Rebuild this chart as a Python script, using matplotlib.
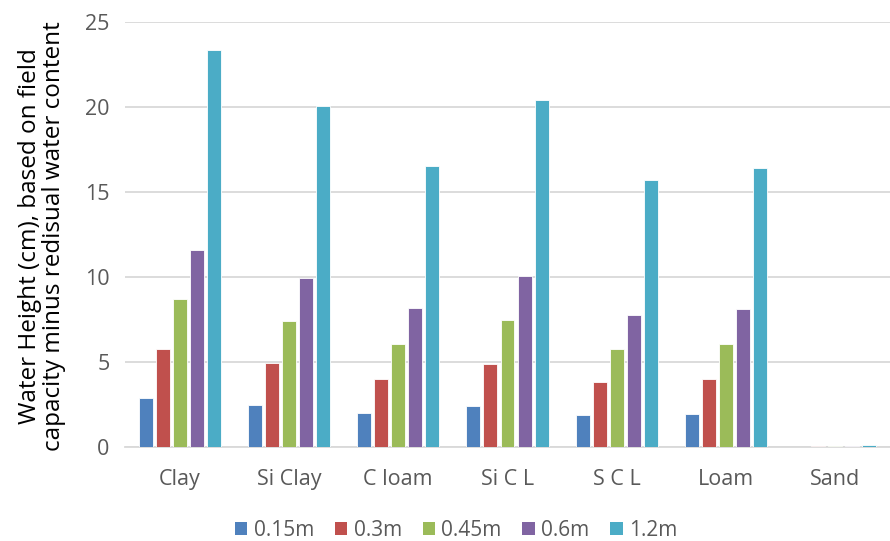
import numpy as np
import matplotlib.pyplot as plt
from matplotlib.patches import Patch

plt.rcParams['font.family'] = ['Open Sans', 'DejaVu Sans']

# soil types and depths
soils = ["Clay", "Si Clay", "C loam", "Si C L", "S C L", "Loam", "Sand"]
depths = ["0.15m", "0.3m", "0.45m", "0.6m", "1.2m"]

# water height (cm) per depth, one value per soil
h_015 = [2.86, 2.45, 2.01, 2.42, 1.89, 1.97, 0.02]
h_030 = [5.76, 4.94, 4.02, 4.91, 3.82, 4.00, 0.03]
h_045 = [8.68, 7.43, 6.08, 7.45, 5.79, 6.05, 0.05]
h_060 = [11.61, 9.97, 8.16, 10.03, 7.78, 8.12, 0.06]
h_120 = [23.38, 20.07, 16.53, 20.40, 15.71, 16.44, 0.12]

series = [h_015, h_030, h_045, h_060, h_120]
colors = ['#4F81BD', '#C0504D', '#9BBB59', '#8064A2', '#4BACC6']

fig = plt.figure(figsize=(8.9, 5.41), dpi=100)
ax = fig.add_axes([125 / 890, 1 - 447 / 541, 765 / 890, (447 - 22) / 541])

x = np.arange(len(soils))
step = 0.156
width = 0.128
for i, (vals, col) in enumerate(zip(series, colors)):
    ax.bar(x + (i - 2) * step, vals, width=width, color=col,
           edgecolor='white', linewidth=0.6, zorder=3)

ax.set_xlim(-0.5, len(soils) - 0.5)
ax.set_ylim(0, 25)
ax.set_yticks(range(0, 26, 5))
ax.set_xticks(x)
ax.set_xticklabels(soils)

# gridlines
ax.grid(axis='y', color='#d9d9d9', linewidth=1.3, zorder=0)
for s in ['top', 'right', 'left']:
    ax.spines[s].set_visible(False)
ax.spines['bottom'].set_color('#d9d9d9')
ax.spines['bottom'].set_linewidth(1.3)
ax.tick_params(axis='both', length=0, labelsize=15.5, colors='#595959')
ax.tick_params(axis='x', pad=16)
ax.tick_params(axis='y', pad=11)

# y label as two lines of figure text
fig.text(42 / 890, 1 - 236 / 541,
         "Water Height (cm), based on field\ncapacity minus redisual water content",
         rotation=90, ha='center', va='center', fontsize=17.5, color='black',
         linespacing=1.0, multialignment='center')

handles = [Patch(facecolor=c, edgecolor='none') for c in colors]
fig.legend(handles, depths, loc='center', bbox_to_anchor=(456 / 890, 1 - 530 / 541),
           ncol=5, frameon=False, fontsize=15, handlelength=0.6, handleheight=0.6,
           handletextpad=0.3, columnspacing=1.0, labelcolor='#595959')

fig.savefig("out.png", dpi=100)
